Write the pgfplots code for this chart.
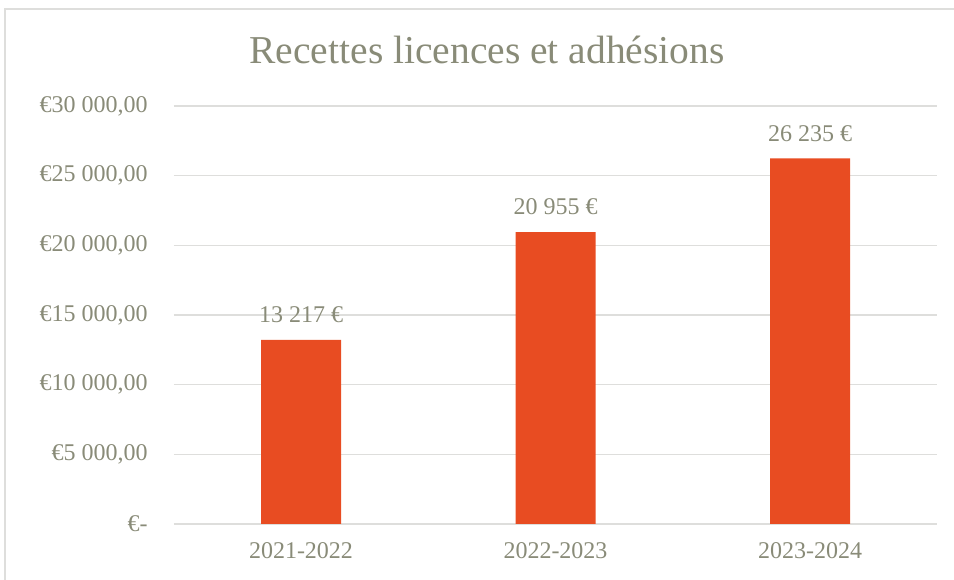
\documentclass[border=0pt]{standalone}
\usepackage{pgfplots}
\pgfplotsset{compat=1.18}
\usepackage{fontspec}
\setmainfont{Liberation Serif}
\definecolor{txt}{HTML}{898B78}
\definecolor{barc}{HTML}{E84C22}
\definecolor{gridc}{HTML}{DEDEDC}
\begin{document}
\begin{tikzpicture}
\useasboundingbox (0,0) rectangle (954bp,580bp);
% chart frame (cropped at right and bottom)
\draw[draw=gridc, line width=1.5bp] (5bp,-10bp) -- (5bp,571bp) -- (970bp,571bp);
\node[anchor=base, inner sep=0pt, text=txt, font=\fontsize{39.5bp}{44bp}\selectfont]
  at (487bp,516bp) {Recettes licences et adhésions};
\begin{axis}[
  at={(173.75bp,56bp)}, anchor=south west,
  scale only axis,
  width=763.5bp, height=418bp,
  ybar, bar width=80bp,
  xmin=-0.5, xmax=2.5,
  ymin=0, ymax=30000,
  scaled y ticks=false,
  axis line style={draw=none},
  tick style={draw=none},
  major tick length=0pt,
  xmajorgrids=false, ymajorgrids=true,
  grid style={draw=gridc, line width=1.5bp},
  xtick=data,
  xticklabels={2021-2022,2022-2023,2023-2024},
  ytick={0,5000,10000,15000,20000,25000,30000},
  yticklabels={{€-\hspace{19bp}},{€5 000,00},{€10 000,00},{€15 000,00},{€20 000,00},{€25 000,00},{€30 000,00}},
  yticklabel style={anchor=east, inner sep=0pt, xshift=-26bp},
  xticklabel style={anchor=north, inner sep=0pt, yshift=-18bp},
  ticklabel style={text=txt, font=\fontsize{24bp}{28bp}\selectfont},
  nodes near coords={\pgfmathprintnumber[1000 sep={\ }, assume math mode=true]{\pgfplotspointmeta}~€},
  nodes near coords style={anchor=south, inner sep=0pt, yshift=17bp, text=txt,
    font=\fontsize{24bp}{28bp}\selectfont},
  clip=false,
]
\addplot[fill=barc, draw=none] coordinates {(0,13217) (1,20955) (2,26235)};
\end{axis}
\end{tikzpicture}
\end{document}
